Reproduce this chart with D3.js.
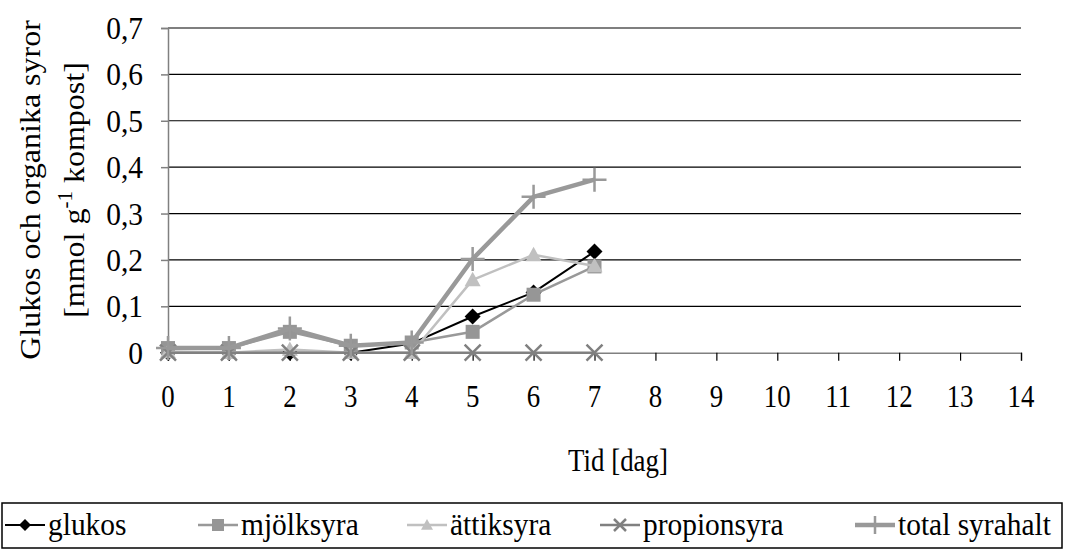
<!DOCTYPE html>
<html>
<head>
<meta charset="utf-8">
<script src="https://cdn.jsdelivr.net/npm/d3@7"></script>
<style>
  html, body { margin: 0; padding: 0; background: #fff; }
  svg { display: block; }
  text { font-family: "Liberation Serif", "Times New Roman", serif; fill: #000; }
</style>
</head>
<body>
<svg id="chart" width="1065" height="550"></svg>
<script>
// Days of sampling and measured concentrations (mmol per g compost)
const days = [0, 1, 2, 3, 4, 5, 6, 7];
const glukos = [0, 0, 0, 0, 0.02, 0.078, 0.13, 0.218];
const mjolksyra = [0.01, 0.01, 0.045, 0.015, 0.022, 0.045, 0.125, 0.186];
const attiksyra = [0.002, 0, 0.007, 0, 0, 0.157, 0.211, 0.187];
const propionsyra = [0, 0, 0, 0, 0, 0, 0, 0];
const totalSyrahalt = [0.01, 0.01, 0.052, 0.015, 0.022, 0.202, 0.336, 0.373];

const xTicks = d3.range(0, 15);
const yTicks = [0, 0.1, 0.2, 0.3, 0.4, 0.5, 0.6, 0.7];

const series = [
  { name: "glukos", values: glukos, color: "#000000", width: 2, marker: "diamond", mcolor: "#000000" },
  { name: "mjölksyra", values: mjolksyra, color: "#999999", width: 2.5, marker: "square", mcolor: "#969696" },
  { name: "ättiksyra", values: attiksyra, color: "#c0c0c0", width: 2.5, marker: "triangle", mcolor: "#c0c0c0" },
  { name: "propionsyra", values: propionsyra, color: "#808080", width: 2.5, marker: "cross", mcolor: "#808080" },
  { name: "total syrahalt", values: totalSyrahalt, color: "#999999", width: 4.5, marker: "plus", mcolor: "#999999" }
];

const FS = 32;      // font size
const SX = 0.84;    // horizontal glyph compression

const svg = d3.select("#chart");
const x = d3.scaleLinear().domain([0, 14]).range([168, 1021]);
const y = d3.scaleLinear().domain([0, 0.7]).range([352.7, 28]);

const fmt = d => d === 0 ? "0" : d3.format(".1f")(d).replace(".", ",");

// text helper: places a label at (px,py) with narrowed glyphs
function label(parent, px, py, anchor, rotate, sx) {
  const g = parent.append("g")
    .attr("transform", `translate(${px},${py}) scale(${sx || SX},1)` + (rotate ? ` rotate(${rotate})` : ""));
  return g.append("text").attr("text-anchor", anchor).attr("font-size", FS);
}

// horizontal gridlines
svg.append("g")
  .selectAll("line")
  .data(yTicks.filter(d => d > 0))
  .join("line")
  .attr("x1", x(0)).attr("x2", x(14))
  .attr("y1", d => y(d)).attr("y2", d => y(d))
  .attr("stroke", "#000").attr("stroke-width", 1.2);

// y axis
const yAxis = svg.append("g")
  .attr("transform", `translate(${x(0)},0)`)
  .call(d3.axisLeft(y).tickValues(yTicks).tickSize(7).tickFormat(""));
yAxis.select(".domain").attr("stroke", "#808080").attr("stroke-width", 1.5);
yAxis.selectAll(".tick line").attr("stroke", "#808080").attr("stroke-width", 1.5);
yTicks.forEach(v => label(svg, 143, y(v) + 11, "end", 0, 0.92).text(fmt(v)));

// x axis
const xAxis = svg.append("g")
  .attr("transform", `translate(0,${y(0)})`)
  .call(d3.axisBottom(x).tickValues(xTicks).tickSize(8).tickFormat(""));
xAxis.select(".domain").attr("stroke", "#808080").attr("stroke-width", 1.5);
xAxis.selectAll(".tick line").attr("stroke", "#000").attr("stroke-width", 1.2);
xTicks.forEach(v => label(svg, x(v), 407, "middle").text(v));

// axis titles
label(svg, 618, 471, "middle").text("Tid [dag]");
label(svg, 40, 190, "middle", -90, 0.95).text("Glukos och organika syror");
const t2 = label(svg, 84, 190, "middle", -90, 0.95);
t2.append("tspan").text("[mmol g");
t2.append("tspan").attr("dy", -13).attr("font-size", 21).text("-1");
t2.append("tspan").attr("dy", 13).text(" kompost]");

// marker drawing
function drawMarker(g, type, color, s) {
  if (type === "diamond") {
    g.append("path").attr("d", `M0,${-s}L${s},0L0,${s}L${-s},0Z`).attr("fill", color);
  } else if (type === "square") {
    g.append("rect").attr("x", -s).attr("y", -s).attr("width", s * 2).attr("height", s * 2).attr("fill", color);
  } else if (type === "triangle") {
    g.append("path").attr("d", `M0,${-s}L${s},${s * 0.8}L${-s},${s * 0.8}Z`).attr("fill", color);
  } else if (type === "cross") {
    g.append("path").attr("d", `M${-s},${-s}L${s},${s}M${-s},${s}L${s},${-s}`).attr("stroke", color).attr("stroke-width", 2.5);
  } else if (type === "plus") {
    g.append("path").attr("d", `M${-s * 1.5},0L${s * 1.5},0M0,${-s * 1.5}L0,${s * 1.5}`).attr("stroke", color).attr("stroke-width", 2.5);
  }
}

const line = d3.line().x((d, i) => x(days[i])).y(d => y(d));

// draw series in order so later ones sit on top
const plot = svg.append("g");
series.forEach(s => {
  const g = plot.append("g");
  g.append("path")
    .datum(s.values)
    .attr("d", line)
    .attr("fill", "none")
    .attr("stroke", s.color)
    .attr("stroke-width", s.width)
    .attr("stroke-linejoin", "round");
  g.selectAll("g.m")
    .data(s.values)
    .join("g")
    .attr("class", "m")
    .attr("transform", (d, i) => `translate(${x(days[i])},${y(d)})`)
    .each(function () { drawMarker(d3.select(this), s.marker, s.mcolor, s.marker === "square" ? 7 : 8); });
});

// legend
const legend = svg.append("g");
legend.append("rect")
  .attr("x", 2).attr("y", 503).attr("width", 1060).attr("height", 45)
  .attr("fill", "#fff").attr("stroke", "#000").attr("stroke-width", 1.5);

const legendX = [5, 198, 407, 600, 855];
series.forEach((s, i) => {
  const g = legend.append("g").attr("transform", `translate(${legendX[i]},525)`);
  g.append("line").attr("x1", 0).attr("x2", 40).attr("y1", 0).attr("y2", 0)
    .attr("stroke", s.color).attr("stroke-width", s.width);
  const m = g.append("g").attr("transform", "translate(20,0)");
  drawMarker(m, s.marker, s.mcolor, 6);
  label(g, 43, 10, "start", 0, 0.92).text(s.name);
});
</script>
</body>
</html>
